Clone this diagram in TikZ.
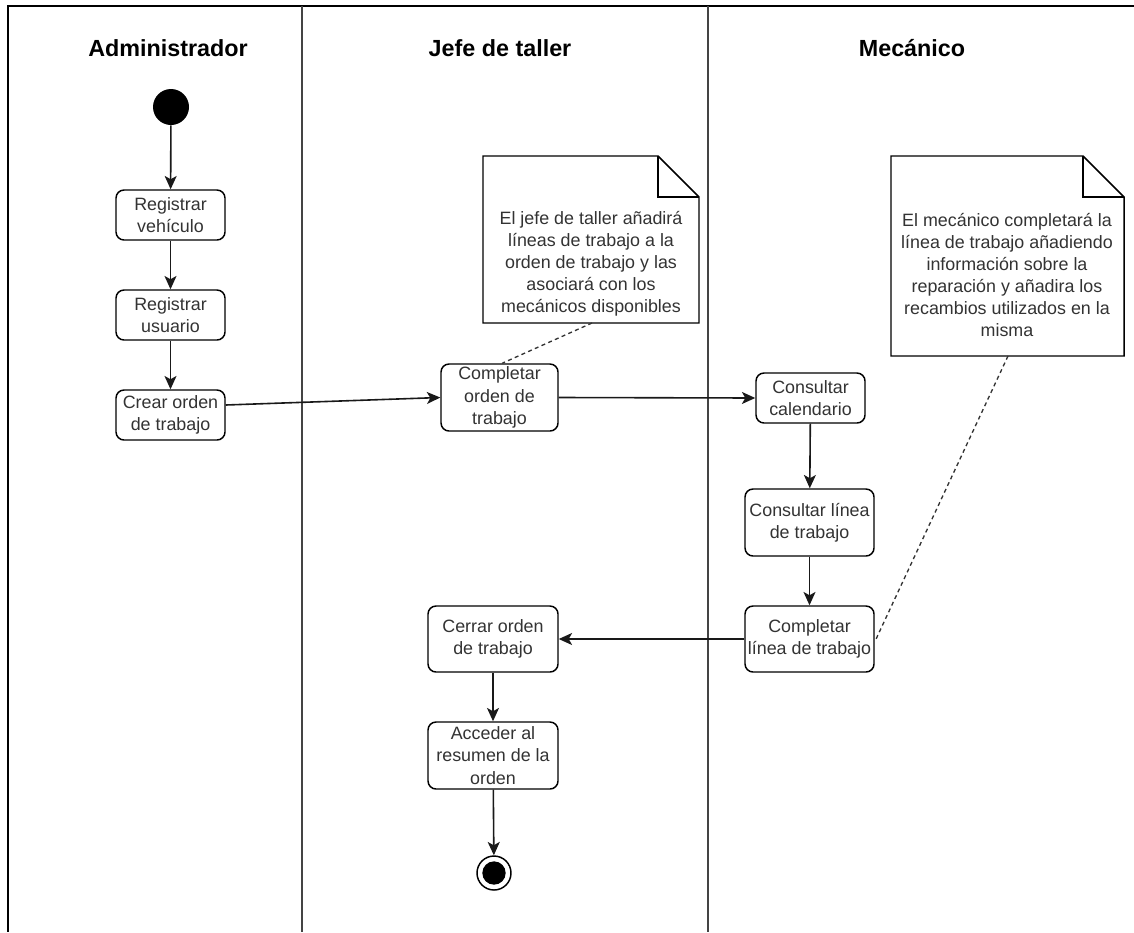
\documentclass[tikz,border=0pt]{standalone}
\usepackage{fontspec}
\setmainfont{Liberation Sans}
\usetikzlibrary{arrows.meta}
\definecolor{txt}{HTML}{333333}
\definecolor{lane}{HTML}{444444}
\tikzset{
  act/.style={draw=black, line width=1.1pt, rounded corners=6pt, fill=white,
    inner sep=0pt, align=center, text=txt,
    font=\fontsize{13.4}{16.7}\selectfont},
  notetext/.style={inner sep=0pt, align=center, text=txt,
    font=\fontsize{13.4}{16.5}\selectfont},
  notebox/.style={draw=black, line width=1.1pt, fill=white},
  lanehead/.style={font=\fontsize{17.5}{20}\selectfont\bfseries, text=black},
  flow/.style={draw=black!90, line width=1.2pt, -{Stealth[length=10pt,width=9pt,inset=2.5pt]}},
  anchorline/.style={draw=black!80, line width=1pt, dash pattern=on 3pt off 2.5pt},
  lanerule/.style={draw=lane, line width=1.6pt}
}
\begin{document}
\begin{tikzpicture}[x=0.75pt,y=-0.75pt]
\useasboundingbox (0,0) rectangle (1134,932);

% swimlane frame
\draw[line width=1.7pt] (1134,6) -- (8,6) -- (8,932);
\draw[lanerule] (302,6) -- (302,932);
\draw[lanerule] (708,6) -- (708,932);

% lane titles
\node[lanehead] (hadmin) at (168,48) {Administrador};
\node[lanehead] (hjefe) at (500,48) {Jefe de taller};
\node[lanehead] (hmec) at (912,48) {Mecánico};

% initial and final states
\node[circle, fill=black, minimum size=27pt, inner sep=0pt] (start) at (171,107) {};
\node[circle, draw=black, line width=1.1pt, fill=white, minimum size=25.5pt, inner sep=0pt] (final) at (494,873) {};
\node[circle, fill=black, minimum size=17.5pt, inner sep=0pt] (finaldot) at (494,873) {};

% administrator activities
\node[act, minimum width=81.75pt, minimum height=37.5pt] (regveh) at (170.5,215) {Registrar\\vehículo};
\node[act, minimum width=81.75pt, minimum height=37.5pt] (regusr) at (170.5,315) {Registrar\\usuario};
\node[act, minimum width=81.75pt, minimum height=37.5pt] (crear) at (170.5,415) {Crear orden\\de trabajo};

% workshop manager activities
\node[act, minimum width=87.75pt, minimum height=50.25pt] (compord) at (499.5,397.5) {Completar\\orden de\\trabajo};
\node[act, minimum width=97.5pt, minimum height=49.5pt] (cerrar) at (493,639) {Cerrar orden\\de trabajo};
\node[act, minimum width=97.5pt, minimum height=50.25pt] (acceder) at (493,755.5) {Acceder al\\resumen de la\\orden};

% mechanic activities
\node[act, minimum width=81.75pt, minimum height=37.5pt] (calend) at (810.5,398) {Consultar\\calendario};
\node[act, minimum width=96.75pt, minimum height=50.25pt] (conslin) at (809.5,522.5) {Consultar línea\\de trabajo};
\node[act, minimum width=96.75pt, minimum height=49.5pt] (complin) at (809.5,639) {Completar\\línea de trabajo};

% notes with folded corner
\draw[notebox] (483,156) -- (658,156) -- (699,197) -- (699,323) -- (483,323) -- cycle;
\draw[line width=1.1pt] (658,156) -- (658,197) -- (699,197);
\node[notetext] (note1) at (591,264) {El jefe de taller añadirá\\líneas de trabajo a la\\orden de trabajo y las\\asociará con los\\mecánicos disponibles};
\coordinate (note1b) at (592,323);

\draw[notebox] (891,156) -- (1083,156) -- (1124,197) -- (1124,356) -- (891,356) -- cycle;
\draw[line width=1.1pt] (1083,156) -- (1083,197) -- (1124,197);
\node[notetext] (note2) at (1007,275) {El mecánico completará la\\línea de trabajo añadiendo\\información sobre la\\reparación y añadira los\\recambios utilizados en la\\misma};
\coordinate (note2b) at (1008,356);

% control flow
\draw[flow] (start) -- (regveh);
\draw[flow] (regveh) -- (regusr);
\draw[flow] (regusr) -- (crear);
\draw[flow] ([yshift=7.5pt]crear.east) -- (compord.west);
\draw[flow] (compord.east) -- (calend.west);
\draw[flow] (calend) -- (conslin);
\draw[flow] (conslin) -- (complin);
\draw[flow] (complin.west) -- (cerrar.east);
\draw[flow] (cerrar) -- (acceder);
\draw[flow] (acceder) -- (final);

% note anchors
\draw[anchorline] (note1b) -- ([xshift=2pt]compord.north);
\draw[anchorline] (note2b) -- ([xshift=1pt]complin.east);
\end{tikzpicture}
\end{document}
